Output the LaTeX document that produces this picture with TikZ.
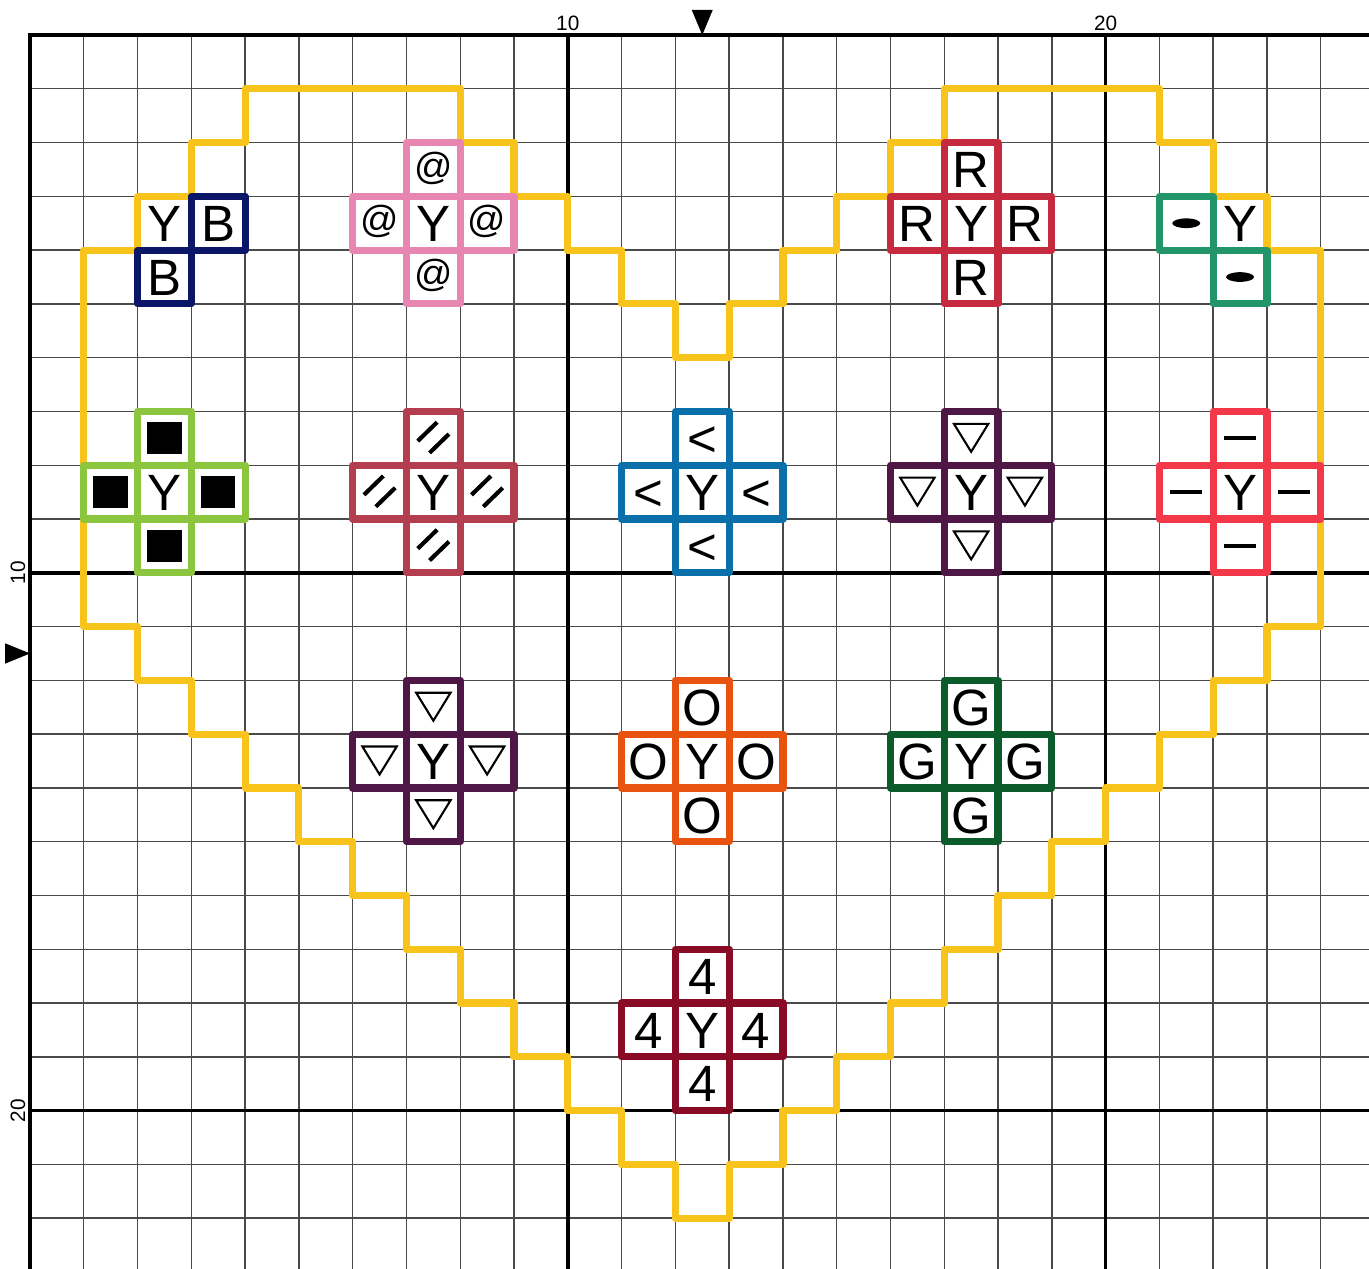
\documentclass[tikz,border=0pt]{standalone}
\usepackage{fontspec}
\setmainfont{Liberation Sans}
\usepackage{xcolor}
\usepackage{tikz}
\definecolor{heartline}{HTML}{F8C41C}
\definecolor{navy}{HTML}{0C1668}
\definecolor{candy}{HTML}{E886B2}
\definecolor{crimson}{HTML}{C62A3E}
\definecolor{jade}{HTML}{22966A}
\definecolor{lime}{HTML}{8CC63F}
\definecolor{wine}{HTML}{B43D50}
\definecolor{ocean}{HTML}{0B6FAA}
\definecolor{plum}{HTML}{4F1746}
\definecolor{scarlet}{HTML}{F23849}
\definecolor{tangerine}{HTML}{E8540F}
\definecolor{forest}{HTML}{0B5C2A}
\definecolor{maroon}{HTML}{890B26}
\definecolor{gridgray}{HTML}{4A4A4A}

\begin{document}
\begin{tikzpicture}[x=1cm,y=-1cm,
    minor/.style={gridgray,line width=0.75pt},
    major/.style={black,line width=1.8pt},
    cellbox/.style={draw=#1,line width=3.8pt,line join=round},
    glyph/.style={anchor=base,inner sep=0pt,font=\fontsize{27}{30}\selectfont},
    axislabel/.style={anchor=base,inner sep=0pt,font=\fontsize{11}{13}\selectfont}]
  \useasboundingbox (-0.558,-0.651) rectangle (24.898,22.945);
  % marks drawn at the centre of one cell
  \def\glyphmark#1{\node[glyph] (\cellname) at (0,0.34) {#1};}
  \def\atmark{\node[glyph,font=\fontsize{20}{22}\selectfont] (\cellname) at (0,0.18) {@};}
  \def\sqmark{\fill (-0.32,-0.3) rectangle (0.32,0.3);}
  \def\ovalmark{\fill (0,0) ellipse [x radius=0.26,y radius=0.09];}
  \def\dashmark{\draw[line width=2.2pt] (-0.3,0) -- (0.3,0);}
  \def\trimark{\draw[line width=1.1pt] (-0.32,-0.27) -- (0.32,-0.27) -- (0,0.25) -- cycle;}
  \def\slashmark{\draw[line width=2.2pt] (-0.29,0.05) -- (0.07,-0.3) (-0.07,0.27) -- (0.29,-0.08);}
  \def\stitch#1#2#3#4#5#6{% name, colour, centre col, centre row, arms, mark
    \node[glyph] (#1) at (#3+0.5,#4+0.84) {Y};
    \foreach \dx/\dy [count=\i] in {#5}{
      \def\cellname{#1-\i}
      \draw[cellbox=#2] (#3+\dx,#4+\dy) rectangle ++(1,1);
      \begin{scope}[shift={(#3+\dx+0.5,#4+\dy+0.5)}] #6 \end{scope}}}
  % grid
  \foreach \c in {1,...,24}{\draw[minor] (\c,0) -- (\c,22.945);}
  \foreach \r in {1,...,22}{\draw[minor] (0,\r) -- (24.898,\r);}
  \foreach \k in {10,20}{
    \draw[major] (\k,0) -- (\k,22.945);
    \draw[major] (0,\k) -- (24.898,\k);}
  \draw[major,line width=2.2pt] (0,22.945) -- (0,0) -- (24.898,0);
  % axis labels and centre marks
  \node[axislabel] (x10) at (10,-0.093) {10};
  \node[axislabel] (x20) at (20,-0.093) {20};
  \node[axislabel,rotate=90] (y10) at (-0.093,10) {10};
  \node[axislabel,rotate=90] (y20) at (-0.093,20) {20};
  \fill (12.5,0) -- (12.305,-0.465) -- (12.695,-0.465) -- cycle;
  \fill (0,11.5) -- (-0.465,11.31) -- (-0.465,11.69) -- cycle;
  % heart outline
  \draw[heartline,line width=3.8pt,line join=round]
    (8,1) |- (9,2) |- (10,3) |- (11,4) |- (12,5) |- (13,6) |- (14,5) |- (15,4) |- (16,3) |- (17,2) |- (21,1)
    |- (22,2) |- (23,3) |- (24,4) -- (24,11) -| (23,12) -| (22,13) -| (21,14) -| (20,15) -| (19,16) -| (18,17)
    -| (17,18) -| (16,19) -| (15,20) -| (14,21) -| (13,22) -- (12,22) |- (11,21) |- (10,20) |- (9,19) |- (8,18)
    |- (7,17) |- (6,16) |- (5,15) |- (4,14) |- (3,13) |- (2,12) |- (1,11) -- (1,4) -| (2,3) -| (3,2) -| (4,1) -- cycle;
  % motifs
  \stitch{navy}{navy}{2}{3}{1/0,0/1}{\glyphmark{B}}
  \stitch{candy}{candy}{7}{3}{0/-1,-1/0,1/0,0/1}{\atmark}
  \stitch{crimson}{crimson}{17}{3}{0/-1,-1/0,1/0,0/1}{\glyphmark{R}}
  \stitch{jade}{jade}{22}{3}{-1/0,0/1}{\ovalmark}
  \stitch{lime}{lime}{2}{8}{0/-1,-1/0,1/0,0/1}{\sqmark}
  \stitch{wine}{wine}{7}{8}{0/-1,-1/0,1/0,0/1}{\slashmark}
  \stitch{ocean}{ocean}{12}{8}{0/-1,-1/0,1/0,0/1}{\glyphmark{<}}
  \stitch{plumA}{plum}{17}{8}{0/-1,-1/0,1/0,0/1}{\trimark}
  \stitch{scarlet}{scarlet}{22}{8}{0/-1,-1/0,1/0,0/1}{\dashmark}
  \stitch{plumB}{plum}{7}{13}{0/-1,-1/0,1/0,0/1}{\trimark}
  \stitch{tangerine}{tangerine}{12}{13}{0/-1,-1/0,1/0,0/1}{\glyphmark{O}}
  \stitch{forest}{forest}{17}{13}{0/-1,-1/0,1/0,0/1}{\glyphmark{G}}
  \stitch{maroon}{maroon}{12}{18}{0/-1,-1/0,1/0,0/1}{\glyphmark{4}}
\end{tikzpicture}
\end{document}
